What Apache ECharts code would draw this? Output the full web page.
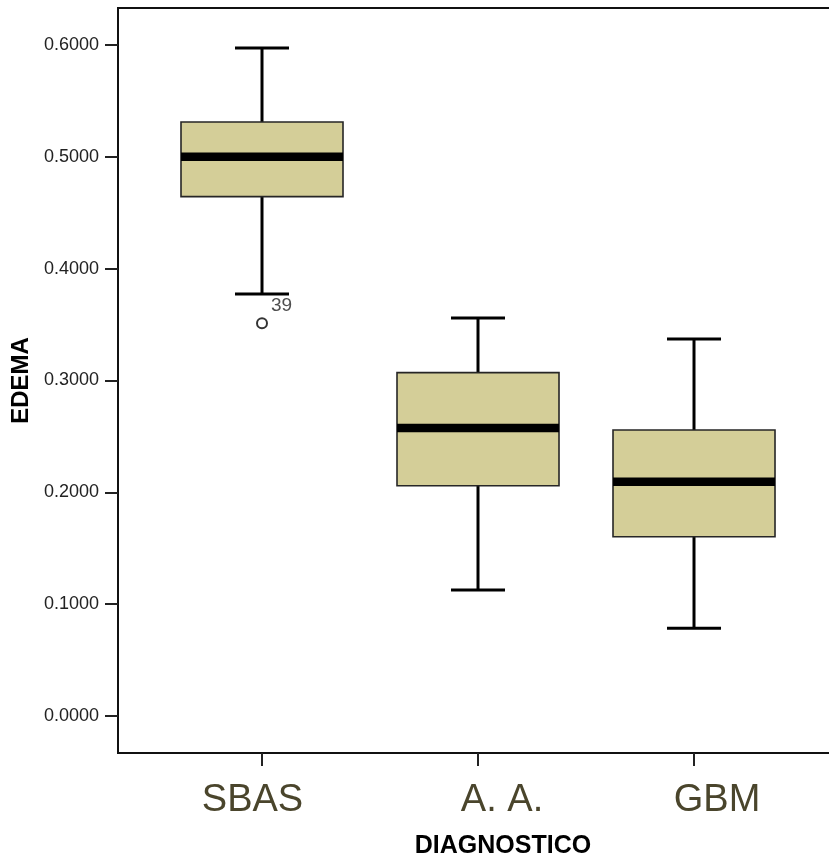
<!DOCTYPE html>
<html>
<head>
<meta charset="utf-8">
<script src="https://cdn.jsdelivr.net/npm/echarts@6/dist/echarts.min.js"></script>
<style>
  html, body { margin: 0; padding: 0; background: #ffffff; }
  #chart { width: 829px; height: 861px; }
</style>
</head>
<body>
<div id="chart"></div>
<script>
// ---- data ----
const categories = ['SBAS', 'A. A.', 'GBM'];
const whiskerLow  = [0.3774, 0.1127, 0.0784];
const q1          = [0.4644, 0.2059, 0.1603];
const median      = [0.5001, 0.2575, 0.2095];
const q3          = [0.5312, 0.3070, 0.2557];
const whiskerHigh = [0.5973, 0.3559, 0.3371];
const outlierCategory = [0];
const outlierValue    = [0.3511];
const outlierId       = ['39'];
const yTickValues = [0, 0.1, 0.2, 0.3, 0.4, 0.5, 0.6];

// ---- build series data ----
const boxData = categories.map((c, i) => [i, whiskerLow[i], q1[i], median[i], q3[i], whiskerHigh[i]]);
const outlierData = outlierCategory.map((c, i) => ({ value: [c, outlierValue[i]], name: outlierId[i] }));
const catIndex = categories.map((c, i) => i);

const BOX_FRAC = 0.75;
const CAP_FRAC = 0.25;

function renderBox(params, api) {
  const x = api.value(0);
  const pLow = api.coord([x, api.value(1)]);
  const pQ1 = api.coord([x, api.value(2)]);
  const pMed = api.coord([x, api.value(3)]);
  const pQ3 = api.coord([x, api.value(4)]);
  const pHigh = api.coord([x, api.value(5)]);
  const boxW = api.size([BOX_FRAC, 0])[0];
  const capW = api.size([CAP_FRAC, 0])[0];
  const cx = pMed[0];
  const whisker = { stroke: '#000', lineWidth: 3 };
  return {
    type: 'group',
    children: [
      { type: 'line', shape: { x1: cx, y1: pQ3[1], x2: cx, y2: pHigh[1] }, style: whisker },
      { type: 'line', shape: { x1: cx, y1: pQ1[1], x2: cx, y2: pLow[1] }, style: whisker },
      { type: 'line', shape: { x1: cx - capW / 2, y1: pHigh[1], x2: cx + capW / 2, y2: pHigh[1] }, style: whisker },
      { type: 'line', shape: { x1: cx - capW / 2, y1: pLow[1], x2: cx + capW / 2, y2: pLow[1] }, style: whisker },
      { type: 'rect', shape: { x: cx - boxW / 2, y: pQ3[1], width: boxW, height: pQ1[1] - pQ3[1] },
        style: { fill: '#d4ce98', stroke: '#262626', lineWidth: 1.6 } },
      { type: 'line', shape: { x1: cx - boxW / 2, y1: pMed[1], x2: cx + boxW / 2, y2: pMed[1] },
        style: { stroke: '#000', lineWidth: 8.5 } }
    ]
  };
}

// per-label horizontal shift (as in the reference) via rich padding
const labelRich = {
  c0: { padding: [0, 19, 0, 0] },
  c1: { padding: [0, 0, 0, 48] },
  c2: { padding: [0, 0, 0, 46] }
};

const chart = echarts.init(document.getElementById('chart'), null, { renderer: 'canvas' });
chart.setOption({
  backgroundColor: '#ffffff',
  animation: false,
  grid: {
    left: 118, top: 8, width: 770, height: 745,
    outerBoundsMode: 'none',
    containLabel: false,
    show: true, borderColor: '#111', borderWidth: 2, backgroundColor: 'transparent'
  },
  xAxis: {
    type: 'value',
    min: -0.66667,
    max: 2.8981,
    splitLine: { show: false },
    axisLine: { show: true, onZero: false, lineStyle: { color: '#111', width: 2 } },
    axisTick: { show: true, customValues: catIndex, length: 13, lineStyle: { color: '#222', width: 2 } },
    axisLabel: {
      customValues: catIndex,
      margin: 29,
      fontSize: 38,
      fontFamily: "'Liberation Sans Narrow', 'Arial Narrow', 'Liberation Sans', Arial, sans-serif",
      color: '#4a452c',
      formatter: function (v) {
        const i = Math.round(v);
        return '{c' + i + '|' + categories[i] + '}';
      },
      rich: labelRich
    },
    name: 'DIAGNOSTICO',
    nameLocation: 'middle',
    nameGap: 81,
    nameTextStyle: {
      fontSize: 25, fontWeight: 'bold', color: '#000',
      fontFamily: "'Liberation Sans Narrow', 'Arial Narrow', 'Liberation Sans', Arial, sans-serif"
    }
  },
  yAxis: {
    type: 'value',
    min: -0.0331,
    max: 0.6331,
    splitLine: { show: false },
    axisLine: { show: true, onZero: false, lineStyle: { color: '#111', width: 2 } },
    axisTick: { show: true, customValues: yTickValues, length: 13, lineStyle: { color: '#222', width: 2 } },
    axisLabel: {
      customValues: yTickValues,
      margin: 19,
      fontSize: 18,
      fontFamily: "'Liberation Sans', Arial, sans-serif",
      color: '#222',
      formatter: function (v) { return v.toFixed(4); }
    },
    name: 'EDEMA',
    nameLocation: 'middle',
    nameGap: 85,
    nameTextStyle: {
      fontSize: 24, fontWeight: 'bold', color: '#000',
      fontFamily: "'Liberation Sans', Arial, sans-serif"
    }
  },
  series: [
    {
      type: 'custom',
      renderItem: renderBox,
      encode: { x: 0, y: [1, 2, 3, 4, 5] },
      data: boxData,
      clip: false
    },
    {
      type: 'scatter',
      data: outlierData,
      symbol: 'circle',
      symbolSize: 10,
      itemStyle: { color: '#fff', borderColor: '#000', borderWidth: 2 },
      label: {
        show: true,
        position: 'right',
        distance: 3,
        offset: [0, -18],
        formatter: function (p) { return p.name; },
        fontSize: 19,
        fontFamily: "'Liberation Sans', Arial, sans-serif",
        color: '#222'
      }
    }
  ]
});
</script>
</body>
</html>
